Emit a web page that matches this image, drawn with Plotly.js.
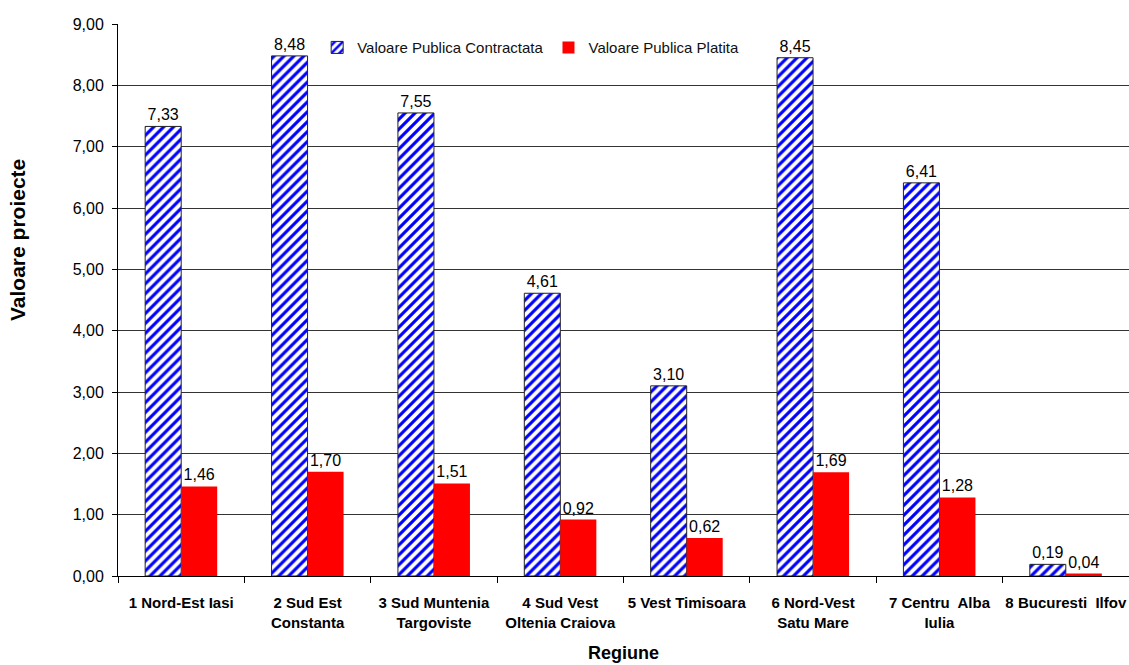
<!DOCTYPE html>
<html>
<head>
<meta charset="utf-8">
<script src="https://cdn.plot.ly/plotly-3.0.1.min.js"></script>
<style>html,body{margin:0;padding:0;background:#fff;}#chart{width:1129px;height:665px;}</style>
</head>
<body>
<div id="chart"></div>
<script>
const categories = [
  "1 Nord-Est Iasi",
  "2 Sud Est<br>Constanta",
  "3 Sud Muntenia<br>Targoviste",
  "4 Sud Vest<br>Oltenia Craiova",
  "5 Vest Timisoara",
  "6 Nord-Vest<br>Satu Mare",
  "7 Centru  Alba<br>Iulia",
  "8 Bucuresti  Ilfov"
];
const contractata = [7.33, 8.48, 7.55, 4.61, 3.10, 8.45, 6.41, 0.19];
const platita = [1.46, 1.70, 1.51, 0.92, 0.62, 1.69, 1.28, 0.04];
const seriesNames = ["Valoare Publica Contractata", "Valoare Publica Platita"];
const yTitle = "Valoare proiecte";
const xTitle = "Regiune";

const FONT = "Liberation Sans, Arial, sans-serif";

const traces = [
  {
    type: "bar",
    name: seriesNames[0],
    x: categories,
    y: contractata,
    marker: {
      color: "#ffffff",
      line: {color: "#222222", width: 1},
      pattern: {shape: "/", fgcolor: "#0000ff", bgcolor: "#ffffff", size: 7, solidity: 0.45}
    },
    texttemplate: "%{y:.2f}",
    textposition: "outside",
    constraintext: "none",
    textfont: {family: FONT, size: 16, color: "#000"},
    cliponaxis: false,
    hoverinfo: "skip"
  },
  {
    type: "bar",
    name: seriesNames[1],
    x: categories,
    y: platita,
    marker: {color: "#ff0000", line: {width: 0}},
    texttemplate: "%{y:.2f}",
    textposition: "outside",
    constraintext: "none",
    textfont: {family: FONT, size: 16, color: "#000"},
    cliponaxis: false,
    hoverinfo: "skip"
  }
];

const layout = {
  width: 1129,
  height: 665,
  margin: {l: 118, r: 0, t: 24, b: 89, pad: 0},
  paper_bgcolor: "#ffffff",
  plot_bgcolor: "#ffffff",
  separators: ",.",
  font: {family: FONT, size: 15, color: "#000"},
  barmode: "group",
  bargap: 0.43,
  bargroupgap: 0,
  showlegend: true,
  legend: {
    orientation: "h",
    x: 0.197, xanchor: "left",
    y: 0.987, yanchor: "top",
    bgcolor: "rgba(0,0,0,0)",
    font: {family: FONT, size: 15, color: "#111"},
    traceorder: "normal"
  },
  xaxis: {
    type: "category",
    range: [-0.5, 7.5],
    showline: true, linecolor: "#000", linewidth: 1,
    ticks: "outside", tickson: "boundaries", ticklen: 6, tickcolor: "#000",
    tickangle: 0,
    ticklabelstandoff: 13,
    tickfont: {family: FONT, size: 15, color: "#000", weight: "bold"},
    showgrid: false,
    automargin: false,
    title: {text: xTitle, font: {family: FONT, size: 18, color: "#000", weight: "bold"}, standoff: 16}
  },
  yaxis: {
    range: [0, 9],
    dtick: 1,
    tickformat: ".2f",
    showline: true, linecolor: "#000", linewidth: 1,
    ticks: "outside", ticklen: 5, tickcolor: "#000",
    ticklabelstandoff: 5,
    tickfont: {family: FONT, size: 16, color: "#000"},
    showgrid: true, gridcolor: "#333", gridwidth: 1,
    zeroline: false,
    automargin: false
  },
  annotations: [{
    text: yTitle,
    textangle: -90,
    xref: "paper", yref: "paper",
    x: -100 / 1011, y: (576 - 240) / 552,
    xanchor: "center", yanchor: "middle",
    showarrow: false,
    font: {family: FONT, size: 21, color: "#000", weight: "bold"}
  }]
};

Plotly.newPlot("chart", traces, layout, {displayModeBar: false, staticPlot: true});
</script>
</body>
</html>
